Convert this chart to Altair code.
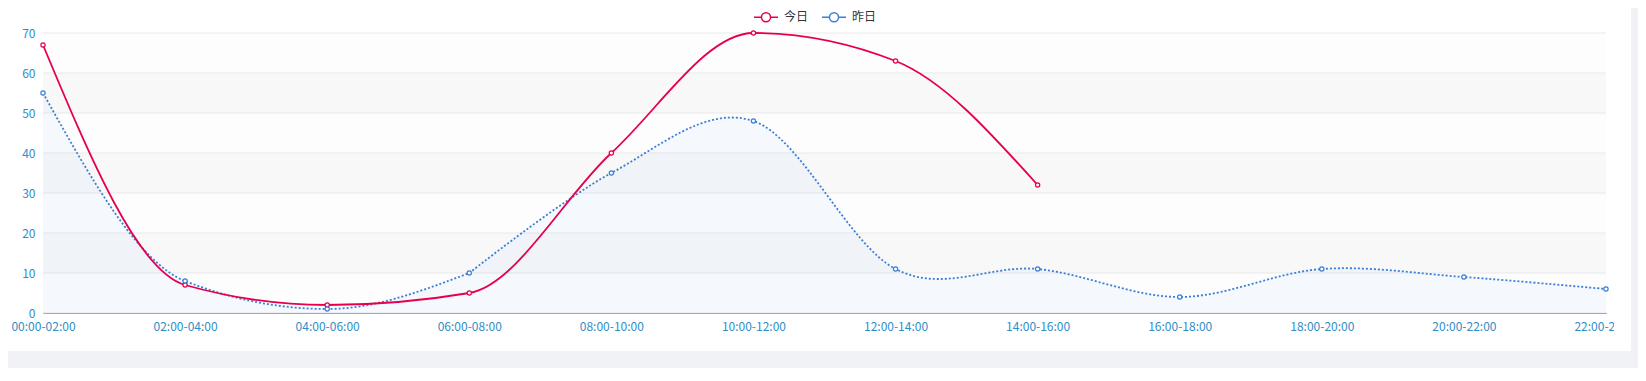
import altair as alt
import pandas as pd

# ---- data ----
periods = ["00:00-02:00", "02:00-04:00", "04:00-06:00", "06:00-08:00",
           "08:00-10:00", "10:00-12:00", "12:00-14:00", "14:00-16:00",
           "16:00-18:00", "18:00-20:00", "20:00-22:00", "22:00-24:00"]
today = [67, 7, 2, 5, 40, 70, 63, 32]
yesterday = [55, 8, 1, 10, 35, 48, 11, 11, 4, 11, 9, 6]
series_names = ["今日", "昨日"]
series_colors = ["#e6004c", "#3b7fd6"]
y_ticks = [0, 10, 20, 30, 40, 50, 60, 70]

# ---- styling ----
W, H = 1563, 280
FONT = "Noto Sans CJK SC"
AXIS_LINE = "#1b82c2"
AXIS_LABEL = "#2f8ec6"
BAND_COLORS = ["#fdfdfd", "#f8f8f8"]
PAGE_GRAY = "#f0f2f5"
SPLIT = 3  # yesterday curve: smooth-monotone up to this point, free spline after

rows = []
for p, v in zip(periods, today):
    rows.append({"period": p, "value": v, "series": series_names[0]})
for p, v in zip(periods, yesterday):
    rows.append({"period": p, "value": v, "series": series_names[1]})
df = pd.DataFrame(rows)
df_today = df[df.series == series_names[0]]
df_yest = df[df.series == series_names[1]].reset_index(drop=True)
df_yest_a = df_yest.iloc[:SPLIT + 1]
df_yest_b = df_yest.iloc[SPLIT:]

bands = pd.DataFrame({"lo": y_ticks[:-1], "hi": y_ticks[1:],
                      "band": [i % 2 for i in range(len(y_ticks) - 1)]})
grid = pd.DataFrame({"v": y_ticks})

xscale = alt.Scale(domain=periods, padding=0)
yscale = alt.Scale(domain=[0, 70], nice=False, zero=True)
cscale = alt.Scale(domain=series_names, range=series_colors)

x_axis = alt.Axis(title=None, labelAngle=0, ticks=False, grid=False,
                  domainColor=AXIS_LINE, domainWidth=1, labelColor=AXIS_LABEL,
                  labelFont=FONT, labelFontSize=12, labelPadding=8,
                  labelOverlap=False, labelFlush=False)
y_axis = alt.Axis(title=None, ticks=False, grid=False, values=y_ticks,
                  domainColor=AXIS_LINE, domainWidth=1, labelColor=AXIS_LABEL,
                  labelFont=FONT, labelFontSize=12, labelPadding=8,
                  labelOverlap=False, labelFlush=False)

legend_symbol = ("M-1,0H-0.38M0.38,0H1M0.38,0A0.38,0.38,0,1,1,-0.38,0"
                 "A0.38,0.38,0,1,1,0.38,0")
legend = alt.Legend(orient="none", legendX=710, legendY=-29,
                    direction="horizontal", title=None,
                    symbolType=legend_symbol, symbolSize=576,
                    symbolStrokeWidth=1.5, symbolFillColor="white",
                    labelFont=FONT, labelFontSize=12, labelColor="#333333",
                    columnPadding=10, labelOffset=5, labelLimit=0)

band_layers = [
    alt.Chart(bands[bands.band == b]).mark_rect(color=BAND_COLORS[b]).encode(
        y=alt.Y("lo:Q", scale=yscale, axis=y_axis), y2="hi:Q")
    for b in (0, 1)
]

grid_layer = alt.Chart(grid).mark_rule(color="#e9e9e9", strokeWidth=1).encode(
    y=alt.Y("v:Q", scale=yscale, axis=y_axis)
)

x_enc = alt.X("period:N", scale=xscale, axis=x_axis, sort=periods)
y_enc = alt.Y("value:Q", scale=yscale, axis=y_axis)
c_enc = alt.Color("series:N", scale=cscale, legend=legend)

yest_layers = []
for part, interp in ((df_yest_a, "monotone"), (df_yest_b, "cardinal")):
    yest_layers.append(alt.Chart(part).mark_area(
        interpolate=interp, color="#4a90e2", opacity=0.045
    ).encode(x=x_enc, y=y_enc))
for part, interp in ((df_yest_a, "monotone"), (df_yest_b, "cardinal")):
    yest_layers.append(alt.Chart(part).mark_line(
        interpolate=interp, strokeWidth=1.8, strokeDash=[2, 2]
    ).encode(x=x_enc, y=y_enc, color=c_enc))

today_line = alt.Chart(df_today).mark_line(
    interpolate="monotone", strokeWidth=1.8
).encode(x=x_enc, y=y_enc, color=c_enc)

points = alt.Chart(df).mark_point(
    filled=False, fill="white", fillOpacity=1, size=18, strokeWidth=1.2, opacity=1
).encode(x=x_enc, y=y_enc, color=c_enc)

# page frame around the chart card (pixel offsets from the plot origin)
frame_white = [1571, 1588, 285, 318]      # hides the clipped part of the last label
frame_right = [1588, 1600, -30, 340]      # grey page strip right of the card
frame_bottom = [-40, 1600, 318, 340]      # grey page strip below the card

def frame(box, color):
    return alt.Chart(pd.DataFrame({"k": [0]})).mark_rect(color=color).encode(
        x=alt.value(box[0]), x2=alt.value(box[1]),
        y=alt.value(box[2]), y2=alt.value(box[3]))

chart = alt.layer(
    *band_layers, grid_layer, *yest_layers, today_line, points,
    frame(frame_white, "white"), frame(frame_right, PAGE_GRAY),
    frame(frame_bottom, PAGE_GRAY),
).properties(
    width=W, height=H,
    autosize=alt.AutoSizeParams(type="none"),
    padding={"left": 35, "top": 25, "right": 32, "bottom": 55},
    background="white",
).configure_view(stroke=None)

chart.save("out.html", embed_options={"renderer": "svg", "actions": False})
